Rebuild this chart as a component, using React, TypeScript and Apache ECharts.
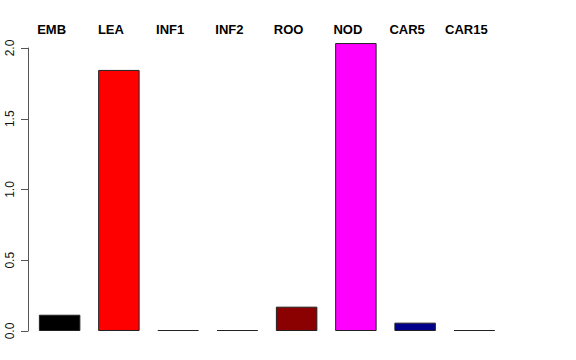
import React, { useEffect, useRef } from "react";
import * as echarts from "echarts";

const categories = ["EMB", "LEA", "INF1", "INF2", "ROO", "NOD", "CAR5", "CAR15"];
const values = [0.115, 1.845, 0, 0, 0.172, 2.035, 0.059, 0];
const colors = ["#000000", "#FF0000", "#555555", "#555555", "#8B0000", "#FF00FF", "#00008B", "#555555"];
const yTicks = [0, 0.5, 1.0, 1.5, 2.0];

export default function App() {
  const ref = useRef<HTMLDivElement>(null);
  useEffect(() => {
    if (!ref.current) return;
    const chart = echarts.init(ref.current, null, { renderer: "svg" });
    chart.setOption({
      animation: false,
      backgroundColor: "#ffffff",
      textStyle: { fontFamily: "Liberation Sans" },
      grid: [
        { left: 30, right: 72, top: 48, bottom: 29 },
        { left: 22, right: 80, top: 48, bottom: 29 },
      ],
      xAxis: [
        {
          type: "category",
          gridIndex: 0,
          data: categories,
          show: false,
        },
        {
          type: "category",
          gridIndex: 1,
          data: categories,
          position: "top",
          axisLine: { show: false },
          axisTick: { show: false },
          axisLabel: {
            interval: 0,
            margin: 12,
            fontSize: 13,
            fontWeight: "bold",
            color: "#000",
            fontFamily: "Liberation Sans",
          },
        },
      ],
      yAxis: [
        {
          type: "value",
          gridIndex: 0,
          min: 0,
          max: yTicks[yTicks.length - 1],
          interval: 0.5,
          offset: 2,
          splitLine: { show: false },
          axisLine: { show: true, lineStyle: { color: "#555", width: 1 } },
          axisTick: { show: true, length: 7, lineStyle: { color: "#555" } },
          axisLabel: {
            rotate: 90,
            margin: 12,
            fontSize: 12,
            color: "#111",
            fontFamily: "Liberation Sans",
            formatter: (v: number) => v.toFixed(1),
          },
        },
        { type: "value", gridIndex: 1, min: 0, max: 1, show: false },
      ],
      series: [
        {
          type: "bar",
          xAxisIndex: 0,
          yAxisIndex: 0,
          clip: false,
          barCategoryGap: "30%",
          barMinHeight: 1,
          data: values.map((v, i) => ({
            value: v,
            itemStyle: { color: colors[i], borderColor: "#222", borderWidth: 1 },
          })),
        },
      ],
    });
    return () => chart.dispose();
  }, []);
  return <div ref={ref} style={{ width: 576, height: 360, position: "absolute", left: 0, top: 0 }} />;
}
